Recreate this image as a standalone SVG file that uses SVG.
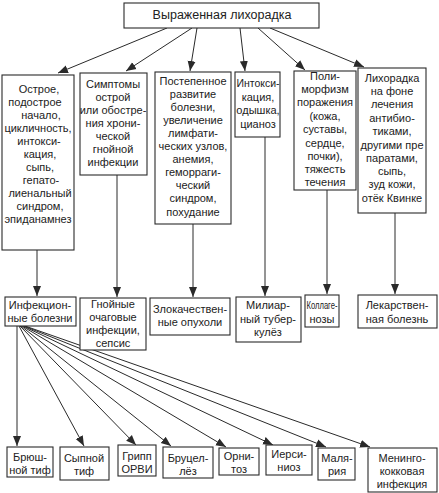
<svg xmlns="http://www.w3.org/2000/svg" width="439" height="493" viewBox="0 0 439 493">
<style>
rect{fill:#fff;stroke:#2a2a2a;stroke-width:1.1}
text{font-family:"Liberation Sans",Arial,sans-serif;font-size:11px;fill:#222;text-anchor:middle}
.c line{stroke:#2a2a2a;stroke-width:1}
</style>
<defs>
<marker id="ah" markerUnits="userSpaceOnUse" markerWidth="10" markerHeight="10" viewBox="0 0 10 10" refX="10" refY="5" orient="auto">
<path d="M0,1 L10,5 L0,9 Z" fill="#2a2a2a"/>
</marker>
</defs>
<rect x="0" y="0" width="439" height="493" style="fill:#fff;stroke:none"/>
<g class="c">
<line x1="167" y1="28" x2="58" y2="73" marker-end="url(#ah)"/>
<line x1="192" y1="28" x2="126" y2="71" marker-end="url(#ah)"/>
<line x1="197" y1="28" x2="190" y2="71" marker-end="url(#ah)"/>
<line x1="240" y1="28" x2="245" y2="71" marker-end="url(#ah)"/>
<line x1="258" y1="28" x2="305" y2="70" marker-end="url(#ah)"/>
<line x1="270" y1="28" x2="364" y2="67" marker-end="url(#ah)"/>
<line x1="37" y1="250" x2="37" y2="296" marker-end="url(#ah)"/>
<line x1="117" y1="175" x2="117" y2="297" marker-end="url(#ah)"/>
<line x1="193" y1="224" x2="193" y2="297" marker-end="url(#ah)"/>
<line x1="265" y1="137" x2="265" y2="296" marker-end="url(#ah)"/>
<line x1="327" y1="190" x2="327" y2="294" marker-end="url(#ah)"/>
<line x1="395" y1="213" x2="395" y2="294" marker-end="url(#ah)"/>
<line x1="17" y1="326" x2="17" y2="446" marker-end="url(#ah)"/>
<line x1="19" y1="326" x2="84" y2="446" marker-end="url(#ah)"/>
<line x1="20" y1="326" x2="136" y2="445" marker-end="url(#ah)"/>
<line x1="21" y1="326" x2="171" y2="446" marker-end="url(#ah)"/>
<line x1="22" y1="326" x2="226" y2="447" marker-end="url(#ah)"/>
<line x1="23" y1="326" x2="273" y2="445" marker-end="url(#ah)"/>
<line x1="24" y1="326" x2="326" y2="447" marker-end="url(#ah)"/>
<line x1="25" y1="326" x2="370" y2="447" marker-end="url(#ah)"/>
</g>
<g id="top"><rect x="124" y="3" width="195" height="25"/><text x="222" y="19" style="font-size:12.5px">Выраженная лихорадка</text></g>
<g id="n1"><rect x="2" y="75" width="72" height="175"/>
<text x="39" y="93">Острое,</text><text x="35" y="106">подострое</text><text x="41" y="119">начало,</text><text x="38" y="132">цикличность,</text><text x="39" y="145">интокси-</text><text x="40" y="158">кация,</text><text x="40" y="171">сыпь,</text><text x="41" y="184">гепато-</text><text x="40" y="197">лиенальный</text><text x="40" y="210">синдром,</text><text x="38" y="223">эпиданамнез</text></g>
<g id="n2"><rect x="80" y="73" width="67" height="102"/>
<text x="113" y="88">Симптомы</text><text x="113" y="101">острой</text><text x="113" y="114">или обостре-</text><text x="113" y="127">ния хрони-</text><text x="113" y="140">ческой</text><text x="113" y="153">гнойной</text><text x="113" y="166">инфекции</text></g>
<g id="n3"><rect x="155" y="72" width="76" height="152"/>
<text x="193" y="85">Постепенное</text><text x="193" y="98">развитие</text><text x="193" y="111">болезни,</text><text x="193" y="124">увеличение</text><text x="193" y="137">лимфати-</text><text x="193" y="150">ческих узлов,</text><text x="193" y="163">анемия,</text><text x="193" y="176">геморраги-</text><text x="193" y="189">ческий</text><text x="193" y="202">синдром,</text><text x="193" y="216">похудание</text></g>
<g id="n4"><rect x="235" y="72" width="45" height="65"/>
<text x="258" y="87" textLength="43" lengthAdjust="spacingAndGlyphs">Интокси-</text><text x="258" y="101">кация,</text><text x="258" y="114">одышка,</text><text x="258" y="128">цианоз</text></g>
<g id="n5"><rect x="294" y="71" width="62" height="119"/>
<text x="325" y="80">Поли-</text><text x="325" y="93">морфизм</text><text x="325" y="106">поражения</text><text x="325" y="120">(кожа,</text><text x="325" y="133">суставы,</text><text x="325" y="147">сердце,</text><text x="325" y="160">почки),</text><text x="325" y="173">тяжесть</text><text x="325" y="186">течения</text></g>
<g id="n6"><rect x="358" y="68" width="68" height="145"/>
<text x="392" y="82">Лихорадка</text><text x="392" y="95">на фоне</text><text x="392" y="108">лечения</text><text x="392" y="122">антибио-</text><text x="392" y="135">тиками,</text><text x="392" y="149">другими пре</text><text x="392" y="162">паратами,</text><text x="392" y="175">сыпь,</text><text x="392" y="188">зуд кожи,</text><text x="392" y="202">отёк Квинке</text></g>
<g id="r1"><rect x="5" y="297" width="71" height="29"/><text x="40" y="309">Инфекцион-</text><text x="40" y="322">ные болезни</text></g>
<g id="r2"><rect x="80" y="298" width="66" height="52"/><text x="113" y="308">Гнойные</text><text x="113" y="321">очаговые</text><text x="113" y="334">инфекции,</text><text x="113" y="347">сепсис</text></g>
<g id="r3"><rect x="150" y="298" width="80" height="37"/><text x="190" y="313">Злокачествен-</text><text x="190" y="326">ные опухоли</text></g>
<g id="r4"><rect x="236" y="297" width="65" height="45"/><text x="268" y="309">Милиар-</text><text x="268" y="323">ный тубер-</text><text x="268" y="336">кулёз</text></g>
<g id="r5"><rect x="305" y="295" width="34" height="32"/><text x="322" y="309" textLength="31" lengthAdjust="spacingAndGlyphs">Коллаге-</text><text x="322" y="323">нозы</text></g>
<g id="r6"><rect x="358" y="295" width="79" height="33"/><text x="397" y="309">Лекарствен-</text><text x="397" y="323">ная болезнь</text></g>
<g id="b1"><rect x="7" y="447" width="46" height="30"/><text x="30" y="461">Брюш-</text><text x="30" y="474">ной тиф</text></g>
<g id="b2"><rect x="60" y="447" width="49" height="33"/><text x="84" y="462">Сыпной</text><text x="84" y="475">тиф</text></g>
<g id="b3"><rect x="118" y="445" width="38" height="31"/><text x="137" y="460">Грипп</text><text x="137" y="473">ОРВИ</text></g>
<g id="b4"><rect x="163" y="447" width="50" height="31"/><text x="188" y="462">Бруцел-</text><text x="188" y="475">лёз</text></g>
<g id="b5"><rect x="219" y="448" width="40" height="27"/><text x="239" y="460">Орни-</text><text x="239" y="473">тоз</text></g>
<g id="b6"><rect x="266" y="445" width="46" height="30"/><text x="289" y="458">Иерси-</text><text x="289" y="471">ниоз</text></g>
<g id="b7"><rect x="318" y="448" width="37" height="32"/><text x="337" y="462">Маля-</text><text x="337" y="475">рия</text></g>
<g id="b8"><rect x="368" y="448" width="69" height="44"/><text x="402" y="462">Менинго-</text><text x="402" y="475">кокковая</text><text x="402" y="488">инфекция</text></g>
</svg>
